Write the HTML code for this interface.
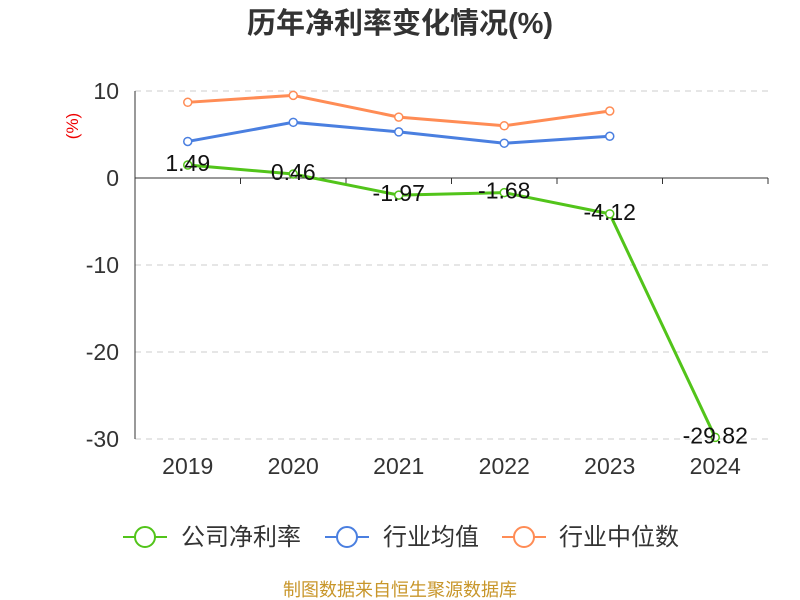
<!DOCTYPE html>
<html><head><meta charset="utf-8"><style>
body{margin:0;background:#fff;}
svg{display:block;font-family:"Liberation Sans","Noto Sans CJK SC",sans-serif;}
</style></head><body>
<svg id="c" width="800" height="600" viewBox="0 0 800 600">
<text x="400" y="33" text-anchor="middle" font-size="29" font-weight="bold" fill="#333">历年净利率变化情况(%)</text>
<text transform="translate(78,126) rotate(-90)" text-anchor="middle" font-size="17" fill="#e00">(%)</text>
<g id="grid"></g><g id="axes"></g><g id="series"></g>
<g font-size="24" fill="#333">
<g><line x1="123" y1="537" x2="167" y2="537" stroke="#52c41a" stroke-width="2"/><circle cx="145" cy="537" r="10" fill="#fff" stroke="#52c41a" stroke-width="2"/><text x="181" y="545">公司净利率</text></g>
<g><line x1="325" y1="537" x2="369" y2="537" stroke="#4a7fe0" stroke-width="2"/><circle cx="347" cy="537" r="10" fill="#fff" stroke="#4a7fe0" stroke-width="2"/><text x="383" y="545">行业均值</text></g>
<g><line x1="502" y1="537" x2="546" y2="537" stroke="#ff8c55" stroke-width="2"/><circle cx="524" cy="537" r="10" fill="#fff" stroke="#ff8c55" stroke-width="2"/><text x="559" y="545">行业中位数</text></g>
</g>
<text x="400" y="596" text-anchor="middle" font-size="18" fill="#c8962a">制图数据来自恒生聚源数据库</text>
</svg>
<script>
const categories=["2019","2020","2021","2022","2023","2024"];
const companyValues=[1.49,0.46,-1.97,-1.68,-4.12,-29.82];
const industryAvg=[4.2,6.4,5.3,4.0,4.8];
const industryMedian=[8.7,9.5,7.0,6.0,7.7];
const yTicks=[10,0,-10,-20,-30];
const NS="http://www.w3.org/2000/svg";
const x0=135,x1=768,band=(x1-x0)/categories.length;
const xs=i=>x0+band*(i+0.5);
const ys=v=>178-v*8.7;
function mk(t,a,p){const e=document.createElementNS(NS,t);for(const k in a)e.setAttribute(k,a[k]);p.appendChild(e);return e;}
const grid=document.getElementById('grid'),axes=document.getElementById('axes'),ser=document.getElementById('series');
yTicks.forEach(v=>{
 if(v!==0){const g=mk('line',{x1:x0,x2:x1,y1:ys(v),y2:ys(v),stroke:'#ccc','stroke-dasharray':'6,5'},grid);
 
 }
 const t=mk('text',{x:119,y:ys(v)+8,'text-anchor':'end','font-size':23,fill:'#333'},axes);t.textContent=v;
 
 
});
const ya=mk('line',{x1:x0,x2:x0,y1:ys(10),y2:ys(-30),stroke:'#333'},axes);


const xa=mk('line',{x1:x0,x2:x1,y1:ys(0),y2:ys(0),stroke:'#333'},axes);


for(let i=0;i<=categories.length;i++){const t=mk('line',{x1:x0+band*i,x2:x0+band*i,y1:ys(0),y2:ys(0)+6,stroke:'#333'},axes);
 
 }
categories.forEach((c,i)=>{const t=mk('text',{x:xs(i),y:474,'text-anchor':'middle','font-size':23,fill:'#333'},axes);t.textContent=c;
 
 });
function line(vals,color,name){
 const g=mk('g',{},ser);
 
 
 mk('polyline',{points:vals.map((v,i)=>xs(i)+','+ys(v)).join(' '),fill:'none',stroke:color,'stroke-width':3},g);
 vals.forEach((v,i)=>{const p=mk('circle',{cx:xs(i),cy:ys(v),r:4,fill:'#fff',stroke:color,'stroke-width':1.5},g);
  
  });
}
line(industryMedian,'#ff8c55','industry-median-line');
line(industryAvg,'#4a7fe0','industry-avg-line');
line(companyValues,'#52c41a','company-line');
companyValues.forEach((v,i)=>{const t=mk('text',{x:xs(i),y:ys(v)+6,'text-anchor':'middle','font-size':23,fill:'#111'},ser);t.textContent=v.toFixed(2);
 
 });
</script>
</body></html>
